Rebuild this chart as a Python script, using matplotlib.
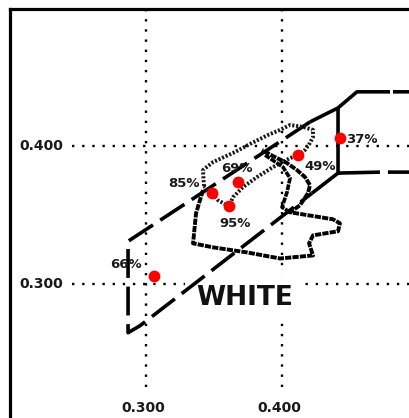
import numpy as np
import matplotlib

matplotlib.use("Agg")
import matplotlib.pyplot as plt

# chromaticity ticks
tick_values = [0.300, 0.400]
tick_labels = ["0.300", "0.400"]

# measured points (x, y) and their labels
point_labels = ["37%", "49%", "69%", "85%", "95%", "66%"]
point_x = [0.4426, 0.4118, 0.3676, 0.3485, 0.3610, 0.3059]
point_y = [0.4058, 0.3934, 0.3737, 0.3657, 0.3562, 0.3051]

# white region boundary, dashed part
box_dashed_x = [0.4206, 0.2868, 0.2868, 0.2956, 0.4221]
box_dashed_y = [0.4175, 0.3307, 0.2642, 0.2693, 0.3657]

# white region boundary, solid right-hand bracket (nan = pen up)
box_solid_x = [0.4794, 0.4551, 0.4412, 0.4206, np.nan,
               0.4412, 0.4412, 0.4221, np.nan,
               0.4412, 0.4720, np.nan,
               0.4816, 0.5000, np.nan,
               0.4779, 0.5000]
box_solid_y = [0.4394, 0.4394, 0.4277, 0.4175, np.nan,
               0.4277, 0.3803, 0.3657, np.nan,
               0.3803, 0.3810, np.nan,
               0.4394, 0.4394, np.nan,
               0.3810, 0.3810]

# narrow beaded band
band_x = [0.3426, 0.3419, 0.3493, 0.3654, 0.3779, 0.3897, 0.3985, 0.4059,
          0.4154, 0.4228, 0.4228, 0.4206, 0.4169, 0.4118, 0.4059, 0.3934,
          0.3816, 0.3713, 0.3640, 0.3610, 0.3529, 0.3485, 0.3426]
band_y = [0.3708, 0.3825, 0.3883, 0.3956, 0.4022, 0.4080, 0.4117, 0.4153,
          0.4139, 0.4117, 0.4066, 0.4022, 0.3971, 0.3934, 0.3912, 0.3847,
          0.3774, 0.3701, 0.3628, 0.3562, 0.3606, 0.3657, 0.3708]

# larger dark outline
blob_x = [0.3419, 0.3368, 0.3346, 0.3493, 0.3743, 0.3985, 0.4228, 0.4199,
          0.4228, 0.4412, 0.4426, 0.4375, 0.4059, 0.4132, 0.4191, 0.4206,
          0.4169, 0.4110, 0.4037, 0.3934, 0.3853]
blob_y = [0.3679, 0.3511, 0.3292, 0.3263, 0.3226, 0.3182, 0.3204, 0.3292,
          0.3350, 0.3380, 0.3438, 0.3467, 0.3518, 0.3569, 0.3657, 0.3715,
          0.3774, 0.3825, 0.3876, 0.3927, 0.3971]
neck_x = [0.3875, 0.4007, 0.4059, 0.4037, 0.4000, 0.4059]
neck_y = [0.3934, 0.3847, 0.3766, 0.3664, 0.3555, 0.3518]

# label offsets in pixels from each point
label_dx = [22, 22, -1, -28, 6, -28]
label_dy = [0, -10, 15, 11, -16, 13]

fig = plt.figure(figsize=(4.10, 4.18), dpi=100)
ax = fig.add_axes([10 / 410, -3 / 418, 408 / 410, 412.5 / 418])
ax.set_xlim(0.2, 0.5)
ax.set_ylim(0.2, 0.5)
ax.set_xticks([])
ax.set_yticks([])
for side in ("right", "bottom"):
    ax.spines[side].set_visible(False)
for side in ("left", "top"):
    ax.spines[side].set_linewidth(2.3)
    ax.spines[side].set_color("black")

dot_style = dict(color="black", linewidth=1.7, linestyle=(0, (1, 3.3)), zorder=1)
for v in tick_values:
    ax.plot([v, v], [0.5, 0.2212], **dot_style)
    ax.plot([0.2456, 0.5], [v, v], **dot_style)

for v, lab in zip(tick_values, tick_labels):
    ax.text(v - 0.002, 0.2095, lab, ha="center", va="center",
            fontsize=10, fontweight="bold", color="#1a1a1a")
    ax.text(0.2228, v, lab, ha="center", va="center",
            fontsize=10, fontweight="bold", color="#1a1a1a")

ax.text(0.3728, 0.2847, "WHITE", ha="center", va="baseline",
        fontsize=19, fontweight="bold", zorder=3, color="#111111",
        bbox=dict(boxstyle="square,pad=0.45", fc="white", ec="none"))

ax.plot(box_dashed_x, box_dashed_y, color="black", linewidth=2.6,
        linestyle=(0, (8, 2.4)), zorder=4)
ax.plot(box_solid_x, box_solid_y, color="black", linewidth=2.6,
        solid_capstyle="butt", zorder=4)

ax.plot(band_x, band_y, color="#1a1a1a", linewidth=2.8,
        linestyle=(0, (0.55, 0.45)), zorder=4)
ax.plot(blob_x, blob_y, color="black", linewidth=2.8,
        linestyle=(0, (1.6, 0.3)), zorder=4)
ax.plot(neck_x, neck_y, color="black", linewidth=2.6,
        linestyle=(0, (1.6, 0.3)), zorder=4)

ax.plot(point_x, point_y, "o", color="#ff0000", markersize=8.5,
        markeredgewidth=0, zorder=6)
for px, py, lab, dx, dy in zip(point_x, point_y, point_labels, label_dx, label_dy):
    ax.annotate(lab, (px, py), xytext=(dx, dy), textcoords="offset pixels",
                ha="center", va="center_baseline", fontsize=9.5,
                fontweight="bold", color="#1a1a1a", zorder=7)

fig.savefig("out.png", dpi=100)
